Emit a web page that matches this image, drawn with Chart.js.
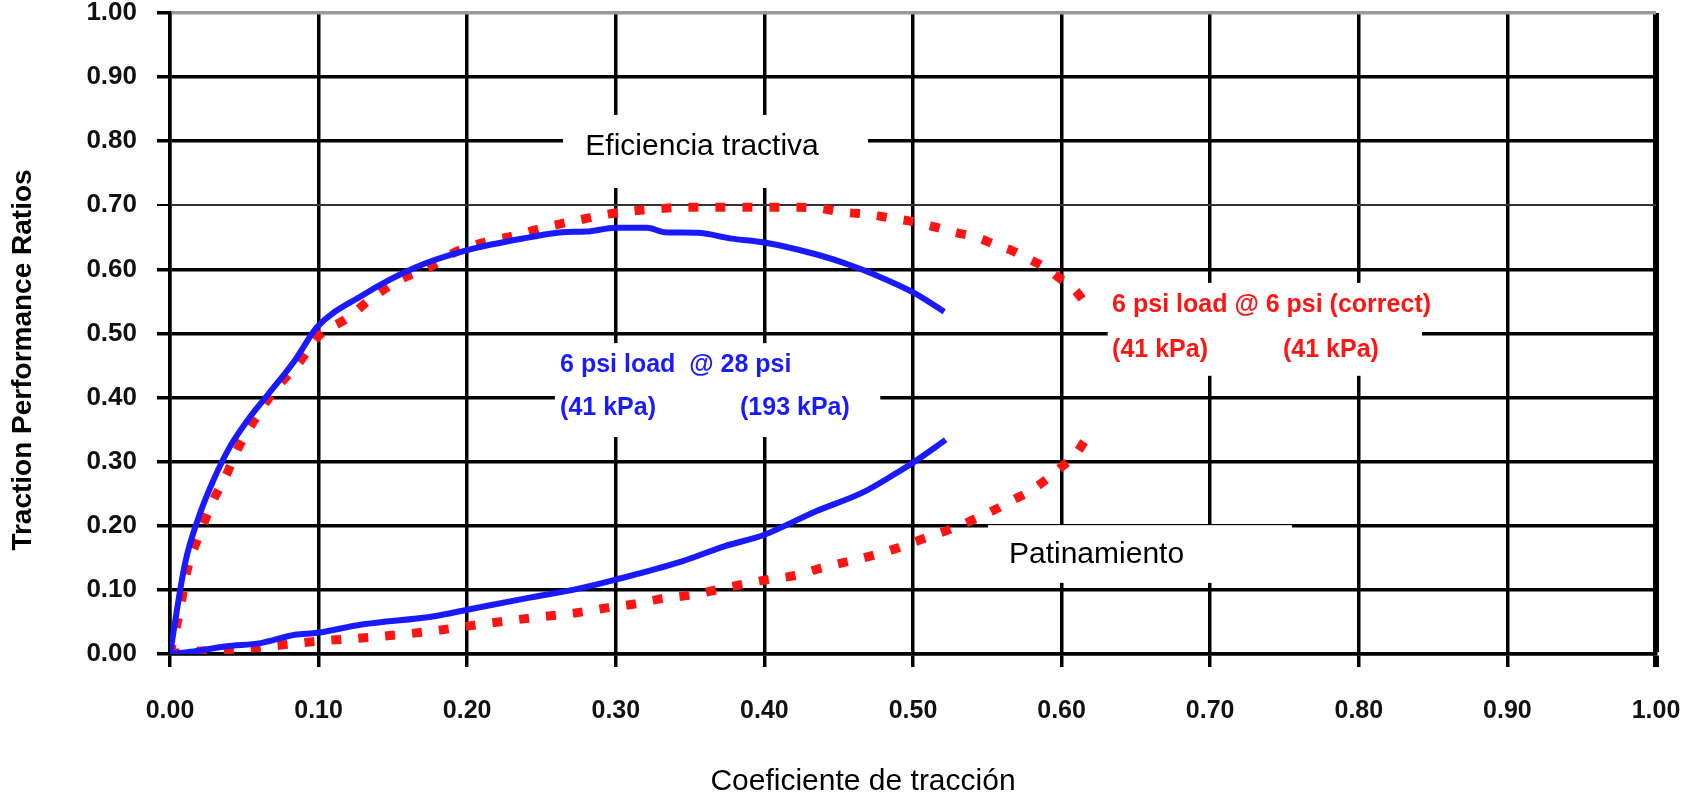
<!DOCTYPE html>
<html>
<head>
<meta charset="utf-8">
<script src="https://cdn.jsdelivr.net/npm/chart.js@4.4.1/dist/chart.umd.min.js"></script>
<style>
  html, body { margin: 0; padding: 0; background: #fff; }
  #wrap { width: 1695px; height: 797px; position: relative; }
</style>
</head>
<body>
<div id="wrap"><canvas id="c" width="1695" height="797"></canvas></div>
<script>
// ---- data ----
const yTickValues = [0, 0.1, 0.2, 0.3, 0.4, 0.5, 0.6, 0.7, 0.8, 0.9, 1.0];
const xTickValues = [0, 0.1, 0.2, 0.3, 0.4, 0.5, 0.6, 0.7, 0.8, 0.9, 1.0];

// Blue: 6 psi load @ 28 psi — tractive efficiency
const blueEffX = [0, 0.010, 0.020, 0.029, 0.040, 0.052, 0.066, 0.084, 0.099, 0.129, 0.165, 0.200, 0.242, 0.264, 0.280, 0.300, 0.321, 0.333, 0.355, 0.378, 0.400, 0.434, 0.456, 0.474, 0.501, 0.521];
const blueEffY = [0, 0.140, 0.218, 0.270, 0.322, 0.364, 0.405, 0.458, 0.510, 0.559, 0.603, 0.630, 0.650, 0.658, 0.659, 0.665, 0.665, 0.658, 0.657, 0.648, 0.642, 0.624, 0.608, 0.592, 0.563, 0.534];

// Red dashed: 6 psi load @ 6 psi — tractive efficiency
const redEffX = [0, 0.006, 0.012, 0.020, 0.029, 0.038, 0.046, 0.058, 0.070, 0.088, 0.099, 0.120, 0.135, 0.154, 0.174, 0.192, 0.211, 0.232, 0.253, 0.275, 0.294, 0.315, 0.330, 0.350, 0.387, 0.405, 0.422, 0.438, 0.454, 0.470, 0.485, 0.501, 0.515, 0.528, 0.543, 0.555, 0.567, 0.578, 0.589, 0.600, 0.609, 0.616];
const redEffY = [0, 0.061, 0.135, 0.187, 0.239, 0.280, 0.322, 0.369, 0.410, 0.458, 0.494, 0.525, 0.554, 0.583, 0.603, 0.627, 0.642, 0.653, 0.666, 0.677, 0.686, 0.692, 0.695, 0.697, 0.697, 0.697, 0.697, 0.695, 0.689, 0.686, 0.680, 0.674, 0.666, 0.658, 0.650, 0.639, 0.629, 0.616, 0.603, 0.584, 0.568, 0.547];

// Blue: slip
const blueSlipX = [0, 0.016, 0.038, 0.061, 0.084, 0.099, 0.129, 0.178, 0.200, 0.242, 0.275, 0.300, 0.344, 0.373, 0.400, 0.434, 0.467, 0.490, 0.501, 0.522];
const blueSlipY = [0, 0.004, 0.012, 0.017, 0.030, 0.033, 0.046, 0.059, 0.069, 0.088, 0.102, 0.116, 0.144, 0.168, 0.186, 0.222, 0.253, 0.284, 0.300, 0.334];

// Red dashed: slip
const redSlipX = [0, 0.016, 0.045, 0.079, 0.099, 0.129, 0.174, 0.208, 0.242, 0.273, 0.294, 0.315, 0.330, 0.350, 0.384, 0.402, 0.422, 0.438, 0.470, 0.485, 0.501, 0.530, 0.543, 0.555, 0.567, 0.578, 0.589, 0.600, 0.609, 0.616];
const redSlipY = [0, 0.004, 0.007, 0.015, 0.020, 0.025, 0.035, 0.046, 0.056, 0.064, 0.072, 0.079, 0.086, 0.092, 0.108, 0.116, 0.123, 0.134, 0.152, 0.162, 0.175, 0.199, 0.212, 0.225, 0.240, 0.253, 0.271, 0.292, 0.310, 0.334];

const xTitle = 'Coeficiente de tracción';
const yTitle = 'Traction Performance Ratios';

const labelEff = 'Eficiencia tractiva';
const labelSlip = 'Patinamiento';
const blueLabel1 = '6 psi load  @ 28 psi';
const blueLabel2a = '(41 kPa)';
const blueLabel2b = '(193 kPa)';
const redLabel1 = '6 psi load @ 6 psi (correct)';
const redLabel2a = '(41 kPa)';
const redLabel2b = '(41 kPa)';

// ---- helpers ----
const zip = (xs, ys) => xs.map((x, i) => ({ x: x, y: ys[i] }));
const FONT = '"Liberation Sans", Arial, sans-serif';
const BLUE = '#1a1aff';
const RED = '#ff1414';

// Annotation boxes and texts, placed in data coordinates
const boxes = [
  { x0: 0.2645, x1: 0.4697, y0: 0.841, y1: 0.727 },
  { x0: 0.259, x1: 0.478, y0: 0.485, y1: 0.3385 },
  { x0: 0.631, x1: 0.8425, y0: 0.579, y1: 0.434 },
  { x0: 0.5505, x1: 0.755, y0: 0.201, y1: 0.111 }
];
const texts = [
  { t: labelEff, x: 0.2795, y: 0.791, color: '#000', font: '30px ' + FONT },
  { t: labelSlip, x: 0.5646, y: 0.1545, color: '#000', font: '30px ' + FONT },
  { t: blueLabel1, x: 0.2625, y: 0.451, color: BLUE, font: 'bold 25px ' + FONT },
  { t: blueLabel2a, x: 0.2625, y: 0.384, color: BLUE, font: 'bold 25px ' + FONT },
  { t: blueLabel2b, x: 0.3836, y: 0.384, color: BLUE, font: 'bold 25px ' + FONT },
  { t: redLabel1, x: 0.634, y: 0.5445, color: RED, font: 'bold 25px ' + FONT },
  { t: redLabel2a, x: 0.634, y: 0.474, color: RED, font: 'bold 25px ' + FONT },
  { t: redLabel2b, x: 0.749, y: 0.474, color: RED, font: 'bold 25px ' + FONT }
];

const annotPlugin = {
  id: 'annot',
  beforeDatasetsDraw(chart) {
    const { ctx, scales: { x, y } } = chart;
    ctx.save();
    ctx.fillStyle = '#fff';
    boxes.forEach(b => {
      const px0 = x.getPixelForValue(b.x0), px1 = x.getPixelForValue(b.x1);
      const py0 = y.getPixelForValue(b.y0), py1 = y.getPixelForValue(b.y1);
      ctx.fillRect(px0, py0, px1 - px0, py1 - py0);
    });
    ctx.textBaseline = 'middle';
    ctx.textAlign = 'left';
    texts.forEach(o => {
      ctx.font = o.font;
      ctx.fillStyle = o.color;
      ctx.fillText(o.t, x.getPixelForValue(o.x), y.getPixelForValue(o.y));
    });
    ctx.restore();
  },
  afterDraw(chart) {
    const { ctx } = chart;
    ctx.save();
    ctx.fillStyle = '#000';
    ctx.textAlign = 'center';
    ctx.textBaseline = 'middle';
    ctx.font = '30px ' + FONT;
    ctx.fillText(xTitle, 863, 782);
    ctx.translate(23, 360);
    ctx.rotate(-Math.PI / 2);
    ctx.font = 'bold 28px ' + FONT;
    ctx.fillText(yTitle, 0, 0);
    ctx.restore();
  }
};

const lineStyle = (color, dashed) => ({
  borderColor: color,
  backgroundColor: color,
  borderWidth: dashed ? 9 : 6,
  borderDash: dashed ? [10, 17] : [],
  borderCapStyle: 'butt',
  pointRadius: 0,
  fill: false,
  cubicInterpolationMode: 'monotone'
});

new Chart(document.getElementById('c'), {
  type: 'line',
  data: {
    datasets: [
      Object.assign({ label: 'blueEff', data: zip(blueEffX, blueEffY) }, lineStyle(BLUE, false)),
      Object.assign({ label: 'blueSlip', data: zip(blueSlipX, blueSlipY) }, lineStyle(BLUE, false)),
      Object.assign({ label: 'redEff', data: zip(redEffX, redEffY) }, lineStyle(RED, true)),
      Object.assign({ label: 'redSlip', data: zip(redSlipX, redSlipY) }, lineStyle(RED, true))
    ]
  },
  options: {
    responsive: false,
    animation: false,
    devicePixelRatio: 1,
    layout: { padding: { top: 13, right: 39, left: 0, bottom: 0 } },
    plugins: { legend: { display: false }, tooltip: { enabled: false } },
    scales: {
      x: {
        type: 'linear',
        min: 0, max: 1,
        afterFit: s => { s.height = 143; s.paddingLeft = 0; s.paddingRight = 0; },
        afterBuildTicks: s => { s.ticks = xTickValues.map(v => ({ value: v })); },
        ticks: {
          padding: 29,
          color: '#111',
          font: { family: FONT, size: 25, weight: 'bold' },
          callback: v => Number(v).toFixed(2),
          maxRotation: 0, autoSkip: false
        },
        grid: {
          color: '#000',
          lineWidth: c => (c.tick && c.tick.value === 1 ? 6 : 3.5),
          tickColor: '#000',
          tickLength: 13
        },
        border: { color: '#000', width: 3.5 }
      },
      y: {
        type: 'linear',
        min: 0, max: 1,
        afterFit: s => { s.width = 170; s.paddingTop = 0; s.paddingBottom = 0; },
        afterBuildTicks: s => { s.ticks = yTickValues.map(v => ({ value: v })); },
        ticks: {
          padding: 20,
          color: '#111',
          font: { family: FONT, size: 26, weight: 'bold' },
          callback: v => Number(v).toFixed(2),
          autoSkip: false
        },
        grid: {
          color: c => {
            if (!c.tick) return '#000';
            if (Math.abs(c.tick.value - 1) < 1e-9) return '#999';
            if (Math.abs(c.tick.value - 0.7) < 1e-9) return '#333';
            return '#000';
          },
          lineWidth: c => (c.tick && Math.abs(c.tick.value - 0.7) < 1e-9 ? 2 : 3.5),
          tickColor: '#000',
          tickLength: 13
        },
        border: { color: '#000', width: 3.5 }
      }
    }
  },
  plugins: [annotPlugin]
});
</script>
</body>
</html>
